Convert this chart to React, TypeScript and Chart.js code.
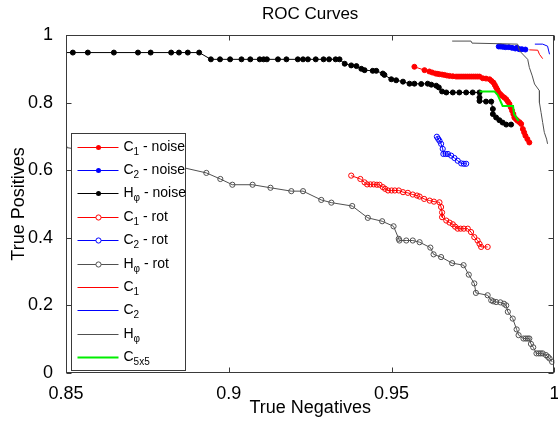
import { useEffect, useRef } from 'react';
import { Chart, registerables } from 'chart.js';

Chart.register(...registerables);

const FONT = 'Liberation Sans, Arial, Helvetica, sans-serif';

const xTicks = [0.85, 0.9, 0.95, 1];
const yTicks = [0, 0.2, 0.4, 0.6, 0.8, 1];

// C1 - noise (red, filled dots)
const c1NoiseX = [0.957, 0.9601, 0.9616, 0.9625, 0.9635, 0.9641, 0.9647, 0.9655, 0.9662, 0.967, 0.9678, 0.9688, 0.9698, 0.9704, 0.971, 0.9716, 0.9722, 0.9728, 0.9734, 0.974, 0.9746, 0.9752, 0.9758, 0.9764, 0.977, 0.978, 0.979, 0.9801, 0.9807, 0.9813, 0.9817, 0.9821, 0.9825, 0.9829, 0.9834, 0.9839, 0.9846, 0.9852, 0.9857, 0.9862, 0.9866, 0.987, 0.9874, 0.9877, 0.9882, 0.9887, 0.9893, 0.9898, 0.9903, 0.9907, 0.9911, 0.9917, 0.9923];
const c1NoiseY = [0.906, 0.896, 0.892, 0.889, 0.886, 0.885, 0.884, 0.883, 0.882, 0.88, 0.879, 0.878, 0.877, 0.877, 0.877, 0.877, 0.877, 0.877, 0.877, 0.877, 0.877, 0.877, 0.877, 0.877, 0.877, 0.872, 0.871, 0.869, 0.864, 0.859, 0.852, 0.845, 0.838, 0.83, 0.825, 0.82, 0.815, 0.81, 0.803, 0.796, 0.786, 0.776, 0.766, 0.756, 0.751, 0.746, 0.742, 0.737, 0.722, 0.712, 0.702, 0.692, 0.682];

// C2 - noise (blue, filled dots)
const c2NoiseX = [0.9829, 0.9835, 0.9842, 0.985, 0.986, 0.987, 0.988, 0.9885, 0.9892, 0.99, 0.9911];
const c2NoiseY = [0.966, 0.966, 0.965, 0.964, 0.964, 0.962, 0.96, 0.962, 0.958, 0.958, 0.957];

// H_phi - noise (black, filled dots)
const hNoiseX = [0.845, 0.8521, 0.8567, 0.8647, 0.8721, 0.876, 0.8823, 0.8847, 0.8874, 0.8909, 0.8945, 0.8973, 0.9004, 0.9039, 0.9066, 0.9095, 0.9107, 0.9117, 0.9151, 0.9177, 0.9212, 0.9228, 0.9243, 0.9267, 0.9291, 0.9308, 0.9328, 0.934, 0.9356, 0.9376, 0.9392, 0.9407, 0.9417, 0.9442, 0.9453, 0.9473, 0.9478, 0.9499, 0.9514, 0.9535, 0.9555, 0.957, 0.9591, 0.9611, 0.9622, 0.9637, 0.9645, 0.9655, 0.9668, 0.9688, 0.9708, 0.9729, 0.9749, 0.977, 0.977, 0.977, 0.979, 0.9806, 0.9811, 0.9811, 0.9821, 0.9831, 0.9841, 0.9852, 0.9867];
const hNoiseY = [0.948, 0.948, 0.948, 0.948, 0.948, 0.948, 0.948, 0.948, 0.948, 0.948, 0.928, 0.928, 0.928, 0.928, 0.928, 0.928, 0.928, 0.928, 0.928, 0.928, 0.928, 0.928, 0.928, 0.928, 0.928, 0.928, 0.928, 0.928, 0.915, 0.91, 0.908, 0.9, 0.896, 0.894, 0.894, 0.886, 0.882, 0.869, 0.866, 0.862, 0.856, 0.856, 0.855, 0.856, 0.853, 0.85, 0.845, 0.833, 0.83, 0.83, 0.83, 0.83, 0.83, 0.83, 0.815, 0.805, 0.803, 0.803, 0.781, 0.766, 0.756, 0.748, 0.741, 0.735, 0.735];

// C1 - rot (red, open circles)
const c1RotX = [0.9376, 0.9404, 0.9417, 0.9425, 0.9435, 0.9445, 0.9455, 0.9463, 0.9473, 0.948, 0.9489, 0.95, 0.951, 0.9522, 0.9535, 0.955, 0.9565, 0.9578, 0.9586, 0.96, 0.9617, 0.963, 0.9647, 0.9652, 0.9655, 0.9655, 0.9668, 0.9678, 0.9688, 0.9695, 0.9703, 0.9712, 0.9722, 0.9734, 0.9744, 0.9754, 0.9764, 0.977, 0.9775, 0.9795];
const c1RotY = [0.584, 0.574, 0.564, 0.558, 0.558, 0.558, 0.557, 0.557, 0.55, 0.545, 0.54, 0.54, 0.54, 0.54, 0.535, 0.533, 0.528, 0.525, 0.522, 0.515, 0.51, 0.507, 0.505, 0.491, 0.475, 0.461, 0.451, 0.445, 0.44, 0.433, 0.427, 0.427, 0.427, 0.427, 0.417, 0.402, 0.392, 0.382, 0.373, 0.373];

// C2 - rot (blue, open circles)
const c2RotX = [0.9639, 0.9643, 0.9647, 0.9652, 0.9657, 0.9659, 0.9666, 0.9673, 0.9683, 0.9693, 0.9703, 0.9714, 0.9722, 0.9729];
const c2RotY = [0.699, 0.693, 0.687, 0.678, 0.663, 0.648, 0.648, 0.648, 0.643, 0.636, 0.628, 0.62, 0.619, 0.619];

// H_phi - rot (dark grey, open circles)
const hRotX = [0.8495, 0.86, 0.872, 0.884, 0.8931, 0.8974, 0.9011, 0.9073, 0.9128, 0.9192, 0.9228, 0.9284, 0.9315, 0.9379, 0.9427, 0.9471, 0.9506, 0.9522, 0.9524, 0.9545, 0.9565, 0.9586, 0.9619, 0.9629, 0.9652, 0.9686, 0.9721, 0.9737, 0.9754, 0.9759, 0.9795, 0.9806, 0.9812, 0.9821, 0.9834, 0.9845, 0.9852, 0.9857, 0.9872, 0.9884, 0.989, 0.9905, 0.9912, 0.9918, 0.9923, 0.9928, 0.9935, 0.9945, 0.9952, 0.9958, 0.9964, 0.9974, 0.998, 0.9985, 0.9993];
const hRotY = [0.668, 0.652, 0.633, 0.612, 0.592, 0.574, 0.557, 0.557, 0.548, 0.538, 0.538, 0.512, 0.504, 0.494, 0.459, 0.449, 0.434, 0.397, 0.392, 0.392, 0.392, 0.387, 0.371, 0.351, 0.343, 0.325, 0.319, 0.291, 0.265, 0.237, 0.23, 0.215, 0.212, 0.21, 0.209, 0.205, 0.2, 0.181, 0.161, 0.129, 0.112, 0.102, 0.102, 0.102, 0.102, 0.086, 0.076, 0.058, 0.058, 0.058, 0.058, 0.053, 0.048, 0.043, 0.033];

// C1 (red line)
const c1X = [0.9923, 0.9949, 0.9954, 0.9964];
const c1Y = [0.956, 0.955, 0.943, 0.93];

// C2 (blue line)
const c2X = [0.994, 0.9964, 0.9979, 0.9985];
const c2Y = [0.973, 0.973, 0.967, 0.943];

// H_phi (grey line)
const hX = [0.9686, 0.9744, 0.9747, 0.9887, 0.9893, 0.9908, 0.9918, 0.9923, 0.9932, 0.9939, 0.9954, 0.9954, 0.9959, 0.9964, 0.9969, 0.9976, 0.9979];
const hY = [0.982, 0.982, 0.976, 0.973, 0.953, 0.938, 0.928, 0.904, 0.879, 0.855, 0.835, 0.8, 0.771, 0.741, 0.712, 0.692, 0.678];

// C5x5 (green line)
const c5X = [0.977, 0.9816, 0.9826, 0.9841, 0.9873, 0.9876, 0.989];
const c5Y = [0.833, 0.833, 0.822, 0.79, 0.79, 0.766, 0.746];

const legendMain = ['C', 'C', 'H', 'C', 'C', 'H', 'C', 'C', 'H', 'C'];
const legendSub = ['1', '2', 'φ', '1', '2', 'φ', '1', '2', 'φ', '5x5'];
const legendRest = [' - noise', ' - noise', ' - noise', ' - rot', ' - rot', ' - rot', '', '', '', ''];

const pts = (xs: number[], ys: number[]) => xs.map((x, i) => ({ x, y: ys[i] }));

type Style = { color: string; marker: 'dot' | 'circle' | 'none'; width: number };
const styles: Style[] = [
  { color: '#ff0000', marker: 'dot', width: 1 },
  { color: '#0000ff', marker: 'dot', width: 1 },
  { color: '#000000', marker: 'dot', width: 1 },
  { color: '#ff0000', marker: 'circle', width: 1 },
  { color: '#0000ff', marker: 'circle', width: 1 },
  { color: '#505050', marker: 'circle', width: 1 },
  { color: '#ff0000', marker: 'none', width: 1 },
  { color: '#0000ff', marker: 'none', width: 1 },
  { color: '#505050', marker: 'none', width: 1 },
  { color: '#00ee00', marker: 'none', width: 2 },
];

const seriesData = [
  pts(c1NoiseX, c1NoiseY),
  pts(c2NoiseX, c2NoiseY),
  pts(hNoiseX, hNoiseY),
  pts(c1RotX, c1RotY),
  pts(c2RotX, c2RotY),
  pts(hRotX, hRotY),
  pts(c1X, c1Y),
  pts(c2X, c2Y),
  pts(hX, hY),
  pts(c5X, c5Y),
];

const boxPlugin = {
  id: 'boxTicks',
  afterDatasetsDraw(chart: any) {
    const { ctx, chartArea, scales } = chart;
    const { left, right, top, bottom } = chartArea;
    ctx.save();
    ctx.strokeStyle = '#3a3a3a';
    ctx.lineWidth = 1;
    const L = Math.round(left) + 0.5;
    const R = Math.round(right) - 0.5;
    const T = Math.round(top) + 0.5;
    const B = Math.round(bottom) - 0.5;
    ctx.strokeRect(L, T, R - L, B - T);
    ctx.beginPath();
    xTicks.forEach((v) => {
      const px = Math.round(scales.x.getPixelForValue(v)) + 0.5;
      ctx.moveTo(px, B); ctx.lineTo(px, B - 5);
      ctx.moveTo(px, T); ctx.lineTo(px, T + 5);
    });
    yTicks.forEach((v) => {
      const py = Math.round(scales.y.getPixelForValue(v)) + 0.5;
      ctx.moveTo(L, py); ctx.lineTo(L + 5, py);
      ctx.moveTo(R, py); ctx.lineTo(R - 5, py);
    });
    ctx.stroke();
    ctx.restore();
  },
};

const legendPlugin = {
  id: 'matLegend',
  afterDraw(chart: any) {
    const { ctx, chartArea } = chart;
    const lx = Math.round(chartArea.left) + 5.5;
    const ly = Math.round(chartArea.top) + 98.5;
    const w = 114;
    const h = 237;
    ctx.save();
    ctx.fillStyle = '#ffffff';
    ctx.fillRect(lx, ly, w, h);
    ctx.strokeStyle = '#3a3a3a';
    ctx.lineWidth = 1;
    ctx.strokeRect(lx, ly, w, h);
    for (let i = 0; i < legendMain.length; i++) {
      const st = styles[i];
      const ry = Math.round(ly + 13 + i * 23.4) + 0.5;
      const x0 = lx + 6;
      const x1 = lx + 47;
      const mx = lx + 27;
      ctx.strokeStyle = st.color;
      ctx.lineWidth = st.width;
      ctx.beginPath();
      ctx.moveTo(x0, ry);
      ctx.lineTo(x1, ry);
      ctx.stroke();
      if (st.marker === 'dot') {
        ctx.fillStyle = st.color;
        ctx.beginPath();
        ctx.arc(mx, ry, 2.5, 0, Math.PI * 2);
        ctx.fill();
      } else if (st.marker === 'circle') {
        ctx.fillStyle = '#ffffff';
        ctx.lineWidth = 1;
        ctx.beginPath();
        ctx.arc(mx, ry, 2.6, 0, Math.PI * 2);
        ctx.fill();
        ctx.stroke();
      }
      ctx.fillStyle = '#000000';
      ctx.textBaseline = 'middle';
      ctx.textAlign = 'left';
      let tx = lx + 52;
      ctx.font = `14px ${FONT}`;
      ctx.fillText(legendMain[i], tx, ry);
      tx += ctx.measureText(legendMain[i]).width;
      ctx.font = `10px ${FONT}`;
      ctx.fillText(legendSub[i], tx, ry + 5);
      tx += ctx.measureText(legendSub[i]).width;
      if (legendRest[i]) {
        ctx.font = `14px ${FONT}`;
        ctx.fillText(legendRest[i], tx, ry);
      }
    }
    ctx.restore();
  },
};

export default function App() {
  const ref = useRef<HTMLCanvasElement | null>(null);
  useEffect(() => {
    if (!ref.current) return;
    const datasets = seriesData.map((data, i) => {
      const st = styles[i];
      return {
        data,
        showLine: true,
        borderColor: st.color,
        borderWidth: st.width,
        backgroundColor: st.marker === 'circle' ? 'rgba(0,0,0,0)' : st.color,
        pointBackgroundColor: st.marker === 'circle' ? 'rgba(0,0,0,0)' : st.color,
        pointBorderColor: st.color,
        pointBorderWidth: 1,
        pointRadius: st.marker === 'none' ? 0 : st.marker === 'dot' ? 2.5 : 2.6,
        pointHoverRadius: 0,
        tension: 0,
        order: 10 - i,
      };
    });
    const chart = new Chart(ref.current, {
      type: 'scatter',
      data: { datasets },
      options: {
        animation: false,
        responsive: false,
        devicePixelRatio: 1,
        layout: { padding: { left: 0, right: 3, top: 0, bottom: 0 } },
        plugins: {
          legend: { display: false },
          tooltip: { enabled: false },
          title: {
            display: true,
            fullSize: false,
            text: 'ROC Curves',
            color: '#000',
            font: { family: FONT, size: 17, weight: 'normal' },
            padding: { top: 4, bottom: 10.6 },
          },
        },
        scales: {
          x: {
            type: 'linear',
            min: 0.85,
            max: 1,
            afterBuildTicks: (s: any) => { s.ticks = xTicks.map((v) => ({ value: v })); },
            afterFit: (s: any) => { s.height = 48; s.paddingRight = 0; s.paddingLeft = 0; },
            ticks: {
              color: '#000',
              font: { family: FONT, size: 18 },
              padding: 2,
              maxRotation: 0,
              autoSkip: false,
              callback: (v: any) => String(v),
            },
            grid: { display: false },
            border: { display: false },
            title: {
              display: true,
              text: 'True Negatives',
              color: '#000',
              font: { family: FONT, size: 18 },
              padding: { top: 0, bottom: 2 },
            },
          },
          y: {
            type: 'linear',
            min: 0,
            max: 1,
            afterBuildTicks: (s: any) => { s.ticks = yTicks.map((v) => ({ value: v })); },
            afterFit: (s: any) => { s.width = 66; },
            ticks: {
              color: '#000',
              font: { family: FONT, size: 18 },
              padding: 5,
              autoSkip: false,
              callback: (v: any) => String(v),
            },
            grid: { display: false },
            border: { display: false },
            title: {
              display: true,
              text: 'True Positives',
              color: '#000',
              font: { family: FONT, size: 18 },
              padding: { top: 8, bottom: 0 },
            },
          },
        },
      } as any,
      plugins: [boxPlugin, legendPlugin],
    });
    return () => chart.destroy();
  }, []);
  return (
    <div style={{ position: 'fixed', left: 0, top: 0, width: 558, height: 421, background: '#fff' }}>
      <canvas ref={ref} width={558} height={421} />
    </div>
  );
}
